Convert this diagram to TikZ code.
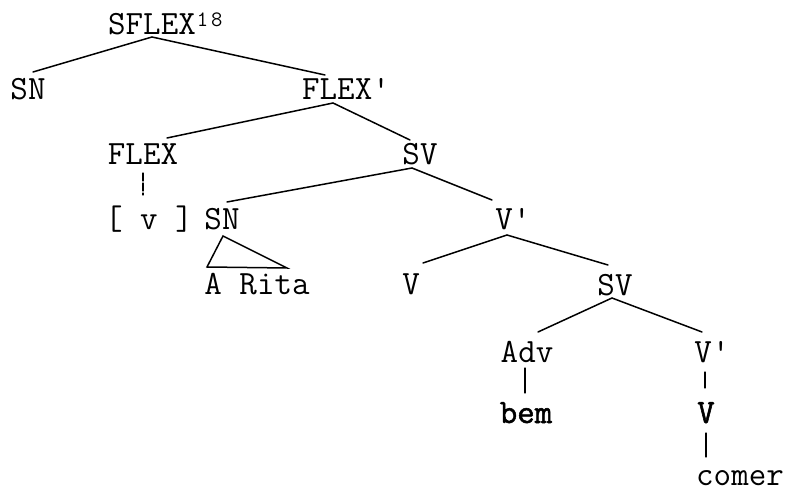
\documentclass[tikz,border=0pt]{standalone}
\usepackage{fontspec}
\newfontfamily\boldmono{Latin Modern Mono}[FakeBold=1.5]
\begin{document}
\begin{tikzpicture}[x=1bp,y=-1bp,
  lbl/.style={anchor=base,inner sep=0pt,font=\fontsize{34bp}{40bp}\ttfamily},
  bold/.style={font=\fontsize{34bp}{40bp}\boldmono},
  edge/.style={line width=1.5bp,line cap=round},
  stem/.style={line width=1.1bp,line cap=round}]
\useasboundingbox (0,0) rectangle (789,490);
% nodes
\node[lbl] (sflex) at (152,35) {SFLEX\rlap{\hspace{1bp}\raisebox{8bp}{\fontsize{22bp}{22bp}\selectfont 1\hspace{3bp}8}}};
\node[lbl] (sn1) at (28,100) {SN};
\node[lbl] (flexp) at (346,100) {FLEX'};
\node[lbl] (flex) at (143,165) {FLEX};
\node[lbl] (sv1) at (420,165) {SV};
\node[lbl] (vbr) at (149,230) {[ v ]};
\node[lbl] (sn2) at (222,230) {SN};
\node[lbl] (vp1) at (513,230) {V'};
\node[lbl] (arita) at (257,295) {A Rita};
\node[lbl] (v1) at (411,295) {V};
\node[lbl] (sv2) at (615,296) {SV};
\node[lbl] (adv) at (527,362) {Adv};
\node[lbl] (vp2) at (712,362) {V'};
\node[lbl,bold] (bem) at (526,423) {bem};
\node[lbl,bold] (v2) at (706,423) {V};
\node[lbl] (comer) at (740,485) {comer};
% connectors
\draw[edge] ([shift={(0,2)}]sflex.base) -- ([shift={(5,-28)}]sn1.base);
\draw[edge] ([shift={(0,2)}]sflex.base) -- ([shift={(-21,-25)}]flexp.base);
\draw[edge] ([shift={(-13,3)}]flexp.base) -- ([shift={(24,-27)}]flex.base);
\draw[edge] ([shift={(-13,3)}]flexp.base) -- ([shift={(-10,-25)}]sv1.base);
\draw[stem,dash pattern=on 8bp off 2bp] ([shift={(0,8)}]flex.base) -- ([shift={(-6,-35)}]vbr.base);
\draw[edge] ([shift={(-8,3)}]sv1.base) -- ([shift={(5,-28)}]sn2.base);
\draw[edge] ([shift={(-8,3)}]sv1.base) -- ([shift={(-21,-30)}]vp1.base);
\draw[edge] ([shift={(1,6)}]sn2.base) -- ([shift={(-50,-28)}]arita.base) -- ([shift={(30,-27)}]arita.base) -- cycle;
\draw[edge] ([shift={(-6,5)}]vp1.base) -- ([shift={(12,-32)}]v1.base);
\draw[edge] ([shift={(-6,5)}]vp1.base) -- ([shift={(-7,-31)}]sv2.base);
\draw[edge] ([shift={(-3,2)}]sv2.base) -- ([shift={(11,-30)}]adv.base);
\draw[edge] ([shift={(-3,2)}]sv2.base) -- ([shift={(-10,-30)}]vp2.base);
\draw[stem] ([shift={(-2,6)}]adv.base) -- ([shift={(-1,-30)}]bem.base);
\draw[stem] ([shift={(-7,10)}]vp2.base) -- ([shift={(-1,-35)}]v2.base);
\draw[stem] ([shift={(0,10)}]v2.base) -- ([shift={(-34,-28)}]comer.base);
\end{tikzpicture}
\end{document}
